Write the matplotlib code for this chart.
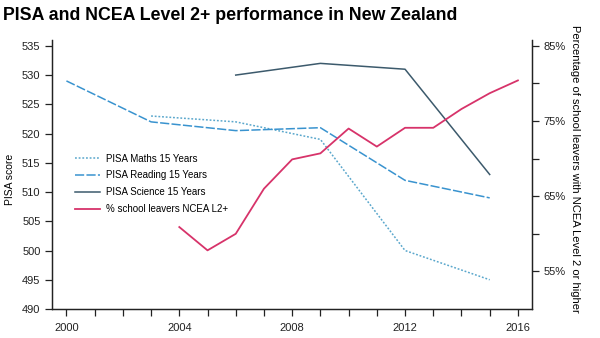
import matplotlib
matplotlib.use('Agg')
import matplotlib.pyplot as plt
from matplotlib.ticker import MultipleLocator, FixedLocator

plt.rcParams['font.family'] = ['Liberation Sans', 'DejaVu Sans']

# PISA mean scores (New Zealand)
maths_years = [2003, 2006, 2009, 2012, 2015]
maths = [523, 522, 519, 500, 495]
reading_years = [2000, 2003, 2006, 2009, 2012, 2015]
reading = [529, 522, 520.5, 521, 512, 509]
science_years = [2006, 2009, 2012, 2015]
science = [530, 532, 531, 513]

# school leavers with NCEA Level 2+ (%)
ncea_years = [2004, 2005, 2006, 2007, 2008, 2009, 2010, 2011, 2012, 2013, 2014, 2015, 2016]
ncea = [60.9, 57.8, 60.0, 66.0, 69.9, 70.7, 74.0, 71.6, 74.1, 74.1, 76.6, 78.7, 80.4]

c_maths = '#5aa7cc'
c_read = '#3993cf'
c_sci = '#3c5a6c'
c_ncea = '#d7336a'

fig = plt.figure(figsize=(6, 3.38), dpi=100)
ax = fig.add_axes([0.0872, 0.0858, 0.7995, 0.7959])
ax2 = ax.twinx()

l1, = ax.plot(maths_years, maths, ls=(0, (1.2, 1.2)), color=c_maths, lw=1.1, label='PISA Maths 15 Years')
l2, = ax.plot(reading_years, reading, ls=(0, (6, 1.5)), color=c_read, lw=1.1, label='PISA Reading 15 Years')
l3, = ax.plot(science_years, science, color=c_sci, lw=1.1, label='PISA Science 15 Years')
l4, = ax2.plot(ncea_years, ncea, color=c_ncea, lw=1.3, label='% school leavers NCEA L2+')

ax.set_xlim(1999.5, 2016.5)
ax.set_ylim(490, 536)
ax2.set_ylim(50, 50 + 46 * 35 / 45)

ax.xaxis.set_major_locator(FixedLocator([2000, 2004, 2008, 2012, 2016]))
ax.xaxis.set_minor_locator(MultipleLocator(1))
ax.yaxis.set_major_locator(MultipleLocator(5))
ax2.yaxis.set_major_locator(FixedLocator([55, 65, 75, 85]))
ax2.yaxis.set_minor_locator(FixedLocator([60, 70, 80]))
ax2.set_yticklabels(['55%', '65%', '75%', '85%'])

for a in (ax, ax2):
    a.spines['top'].set_visible(False)
    for s in a.spines.values():
        s.set_linewidth(0.9)
        s.set_color('#222222')
    a.tick_params(which='both', direction='out', length=5, width=0.9, colors='#222222', labelsize=8)
ax.tick_params(axis='x', which='major', pad=5)

ax.set_ylabel('PISA score', fontsize=7.5)
ax.yaxis.set_label_coords(-0.078, 0.48)
ax2.set_ylabel('Percentage of school leavers with NCEA Level 2 or higher', fontsize=8,
               rotation=-90)
ax2.yaxis.set_label_coords(1.1, 0.52)

leg = ax.legend(handles=[l1, l2, l3, l4], loc='upper left', bbox_to_anchor=(0.028, 0.61),
                frameon=False, fontsize=7, handlelength=2.6, handletextpad=0.6,
                labelspacing=0.7)

fig.text(0.005, 0.955, 'PISA and NCEA Level 2+ performance in New Zealand',
         fontsize=12.8, fontweight='bold', va='center', ha='left')

fig.savefig('out.png', dpi=100)
